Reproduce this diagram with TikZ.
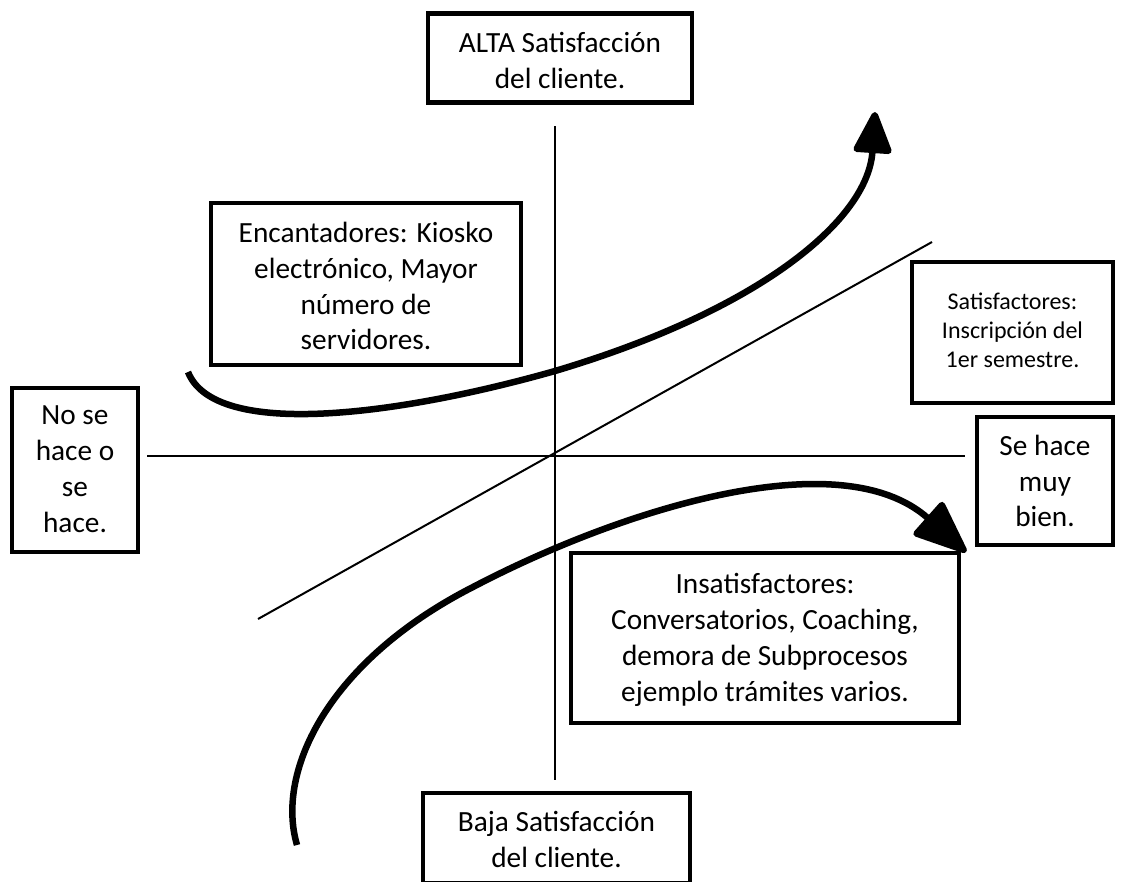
\documentclass[tikz,border=0pt]{standalone}
\usepackage{fontspec}
\setmainfont{Carlito}
\usetikzlibrary{arrows.meta}
\newcommand{\mybt}[2]{\raisebox{#1}[\height][\depth]{\begin{tabular}{@{}c@{}}#2\end{tabular}}}
\begin{document}
\begin{tikzpicture}[x=1pt,y=-1pt,
  box/.style={draw, fill=white, line width=4.5pt, align=center, inner sep=0pt,
    font=\fontsize{29.3}{35.8}\selectfont},
  smallbox/.style={box, font=\fontsize{24}{29.3}\selectfont},
  axisline/.style={line width=2pt},
  curve/.style={line width=6.5pt},
]
\useasboundingbox (0,0) rectangle (1124,881);
\clip (0,0) rectangle (1124,881);
\fill[white] (0,0) rectangle (1124,881);

% axes
\coordinate (vt) at (555,126);
\coordinate (vb) at (555,780);
\coordinate (hl) at (147,456);
\coordinate (hr) at (965,456);
\coordinate (dl) at (258,619);
\coordinate (dr) at (932,242);
\draw[axisline] (vt) -- (vb);
\draw[axisline] (hl) -- (hr);
\draw[axisline] (dl) -- (dr);

% boxes
\node[box, minimum width=264, minimum height=89] (alta) at (560,58)
  {\mybt{-5pt}{ALTA Satisfacción\\del cliente.}};
\node[box, minimum width=267, minimum height=90] (baja) at (556.5,838)
  {\mybt{-4pt}{Baja Satisfacción\\del cliente.}};
\node[box, minimum width=310, minimum height=162] (enc) at (366,284)
  {\mybt{-5pt}{Encantadores: Kiosko\\electrónico, Mayor\\número de\\servidores.}};
\node[smallbox, minimum width=201, minimum height=141] (sat) at (1012.5,332.5)
  {\mybt{0pt}{Satisfactores:\\Inscripción del\\1er semestre.}};
\node[box, minimum width=126, minimum height=164] (nose) at (75,470)
  {\mybt{-1.5pt}{No se\\hace o\\se\\hace.}};
\node[box, minimum width=136, minimum height=128] (sehace) at (1045,481)
  {\mybt{-3pt}{Se hace\\muy\\bien.}};
\node[box, minimum width=388, minimum height=170] (insat) at (765,638)
  {\mybt{-2.5pt}{Insatisfactores:\\Conversatorios, Coaching,\\demora de Subprocesos\\ejemplo trámites varios.}};

% curves
\coordinate (us) at (188,372);
\coordinate (um) at (555,371);
\coordinate (ue) at (875,112);
\draw[curve, -{Triangle[length=46pt,width=40pt,round]}]
  (us) .. controls (215,440) and (400,415) .. (um)
       .. controls (760,310) and (868,220) .. (ue);

\coordinate (ls) at (297,845);
\coordinate (lm) at (473,587);
\coordinate (le) at (966,552);
\draw[curve, -{Triangle[length=58pt,width=46pt,round]}]
  (ls) .. controls (275,770) and (330,660) .. (lm)
       .. controls (620,510) and (840,440) .. (le);
\end{tikzpicture}
\end{document}
